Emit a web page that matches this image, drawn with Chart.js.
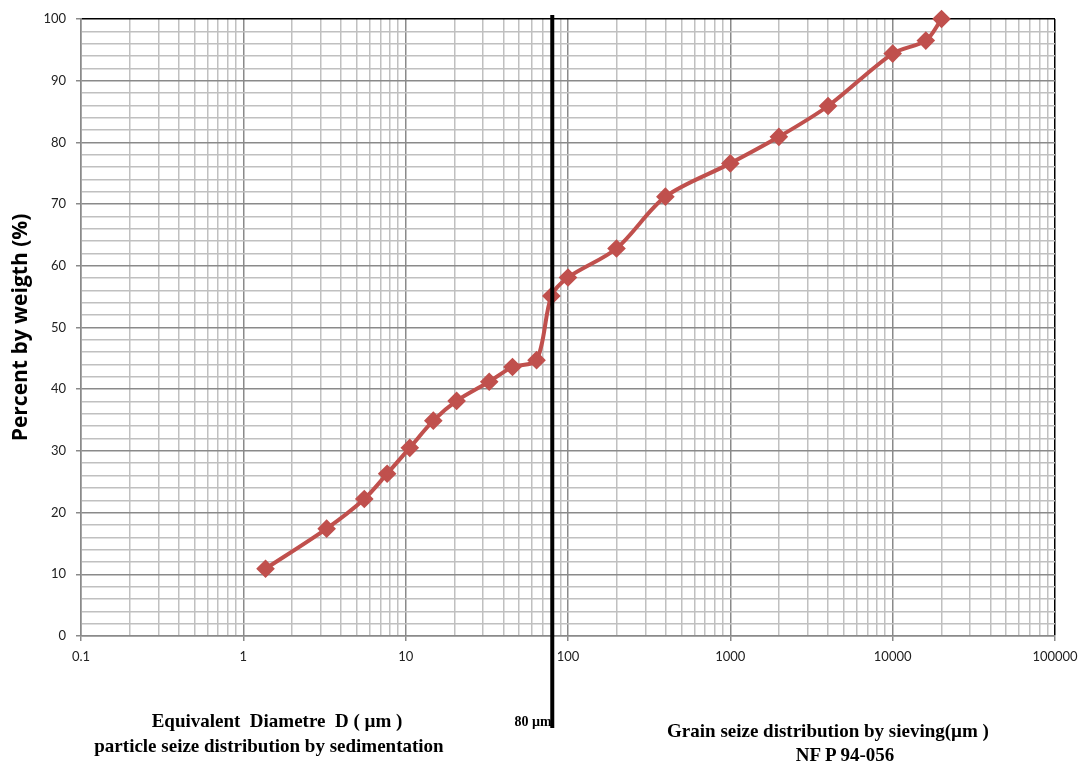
<!DOCTYPE html>
<html lang="en">
<head>
  <meta charset="UTF-8">
  <title>Grain size distribution</title>
  <script src="https://cdn.jsdelivr.net/npm/chart.js"></script>
  <style>
    html, body { margin: 0; padding: 0; background: #fff; overflow: hidden; }
    #wrap { position: relative; width: 1083px; height: 762px; }
    #gsd { display: block; }
    .cap {
      position: absolute;
      font-family: "Liberation Serif", "Times New Roman", serif;
      font-weight: bold;
      font-size: 19px;
      line-height: 19px;
      white-space: pre;
      color: #000;
      transform: translate(-50%, -50%);
    }
  </style>
</head>
<body>
  <div id="wrap">
    <canvas id="gsd"></canvas>
    <div class="cap" style="left:277px; top:720px;">Equivalent  Diametre  D ( µm )</div>
    <div class="cap" style="left:269px; top:745px;">particle seize distribution by sedimentation</div>
    <div class="cap" style="left:533px; top:722px; font-size:14px; line-height:14px;">80 µm</div>
    <div class="cap" style="left:828px; top:730px;">Grain seize distribution by sieving(µm )</div>
    <div class="cap" style="left:845px; top:754px;">NF P 94-056</div>
  </div>

  <script>
    // grain diameter (µm) and cumulative percent passing
    const diameters = [1.37, 3.26, 5.56, 7.69, 10.6, 14.8, 20.6, 32.7, 45.5, 64.0, 79, 100, 199, 398, 1000, 1990, 4000, 10000, 16000, 20000];
    const passing   = [10.9, 17.4, 22.2, 26.3, 30.5, 34.9, 38.1, 41.2, 43.6, 44.7, 55.1, 58.1, 62.8, 71.2, 76.6, 80.9, 85.9, 94.4, 96.5, 100];

    // axis labels
    const xDecades = [0.1, 1, 10, 100, 1000, 10000, 100000];
    const xTickLabels = ['0.1', '1', '10', '100', '1000', '10000', '100000'];
    const sieveLimit = 80; // 80 µm boundary

    // minor grid for the log axis: 1..9 in every decade
    const xGrid = [];
    for (let e = -1; e <= 4; e++) {
      for (let m = 1; m <= 9; m++) xGrid.push(parseFloat((m * Math.pow(10, e)).toPrecision(3)));
    }
    xGrid.push(100000);

    const isDecade = v => xDecades.some(d => Math.abs(d - v) / d < 1e-6);

    const limitLine = {
      id: 'limitLine',
      afterDatasetsDraw(chart) {
        const x = chart.scales.x.getPixelForValue(sieveLimit);
        const ctx = chart.ctx;
        ctx.save();
        ctx.strokeStyle = '#000';
        ctx.lineWidth = 4;
        ctx.beginPath();
        ctx.moveTo(x, 15);
        ctx.lineTo(x, 728);
        ctx.stroke();
        ctx.restore();
      }
    };

    const ctx = document.getElementById('gsd').getContext('2d');
    new Chart(ctx, {
      type: 'line',
      data: {
        datasets: [{
          data: diameters.map((d, i) => ({ x: d, y: passing[i] })),
          borderColor: '#C0504D',
          backgroundColor: '#C0504D',
          borderWidth: 4,
          pointStyle: 'rectRot',
          pointRadius: 6.5,
          pointHoverRadius: 6.5,
          tension: 0.3,
          clip: false
        }]
      },
      options: {
        responsive: true,
        maintainAspectRatio: false,
        animation: false,
        layout: { padding: { top: 19, right: 28, left: 0, bottom: 0 } },
        plugins: { legend: { display: false }, tooltip: { enabled: false } },
        scales: {
          x: {
            type: 'logarithmic',
            min: 0.1,
            max: 100000,
            afterBuildTicks: s => { s.ticks = xGrid.map(v => ({ value: v })); },
            afterFit: s => { s.height = 126; s.paddingLeft = 0; s.paddingRight = 0; },
            ticks: {
              autoSkip: false,
              maxRotation: 0,
              padding: 8,
              color: '#222',
              font: { family: 'Lato', size: 13 },
              callback: v => {
                const i = xDecades.findIndex(d => Math.abs(d - v) / d < 1e-6);
                return i >= 0 ? xTickLabels[i] : '';
              }
            },
            grid: {
              lineWidth: 1.5,
              tickLength: 5,
              color: c => c.tick && c.tick.value === 100000 ? '#000' : (c.tick && isDecade(c.tick.value) ? '#8a8a8a' : '#c0c0c0'),
              tickColor: c => c.tick && isDecade(c.tick.value) ? '#8a8a8a' : 'rgba(0,0,0,0)'
            },
            border: { color: '#8a8a8a', width: 1.5 }
          },
          y: {
            min: 0,
            max: 100,
            afterFit: s => { s.width = 81; s.paddingTop = 0; s.paddingBottom = 0; },
            ticks: {
              stepSize: 2,
              autoSkip: false,
              padding: 10,
              color: '#222',
              font: { family: 'Lato', size: 13 },
              callback: v => v % 10 === 0 ? v : ''
            },
            grid: {
              lineWidth: 1.5,
              tickLength: 5,
              color: c => c.tick && c.tick.value === 100 ? '#000' : (c.tick && c.tick.value % 10 === 0 ? '#8a8a8a' : '#c0c0c0'),
              tickColor: c => c.tick && c.tick.value % 10 === 0 ? '#8a8a8a' : 'rgba(0,0,0,0)'
            },
            border: { color: '#8a8a8a', width: 1.5 },
            title: {
              display: true,
              text: 'Percent by weigth (%)',
              color: '#000',
              font: { family: 'Open Sans', size: 21, weight: 'bold' },
              padding: { top: 8, bottom: 0 }
            }
          }
        }
      },
      plugins: [limitLine]
    });
  </script>
</body>
</html>
